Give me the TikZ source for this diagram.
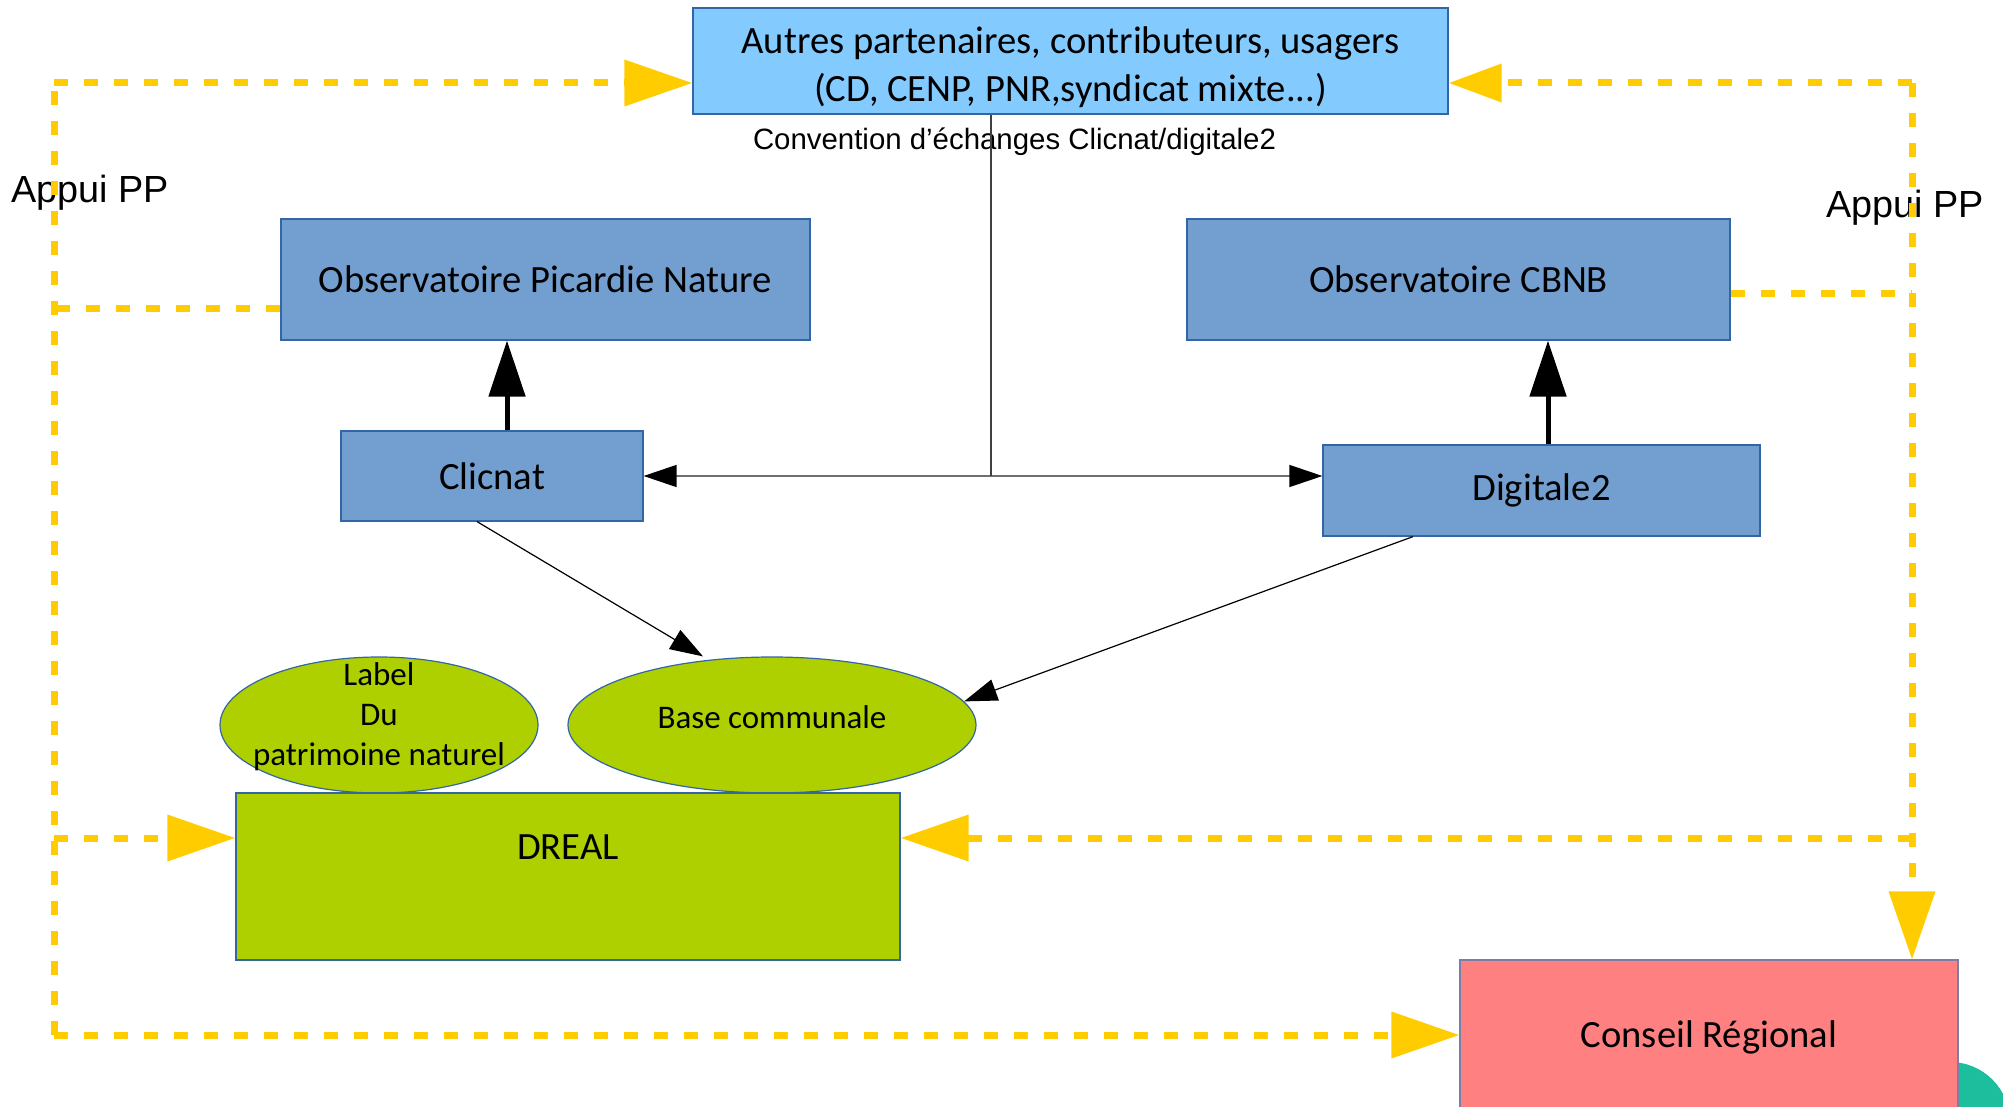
\documentclass[tikz,border=0pt]{standalone}
\usepackage{fontspec}
\setmainfont{Carlito}
\newfontfamily\arialf{Liberation Sans}
\usetikzlibrary{arrows.meta,shapes.geometric}
\definecolor{topblue}{HTML}{83CAFF}
\definecolor{boxblue}{HTML}{729FCF}
\definecolor{edgeblue}{HTML}{3465A4}
\definecolor{lgreen}{HTML}{AECF00}
\definecolor{pinkc}{HTML}{FF8080}
\definecolor{pinkedge}{HTML}{7B7FA8}
\definecolor{ygold}{HTML}{FFCC00}
\definecolor{tealc}{HTML}{1CBE9E}
\definecolor{thingray}{HTML}{707070}
\begin{document}
\begin{tikzpicture}[x=0.5pt,y=-0.5pt,
  box/.style={draw=edgeblue, line width=0.6pt, inner sep=0pt, align=center,
    font=\fontsize{19.3}{24}\selectfont},
  ell/.style={ellipse, draw=edgeblue, line width=0.6pt, fill=lgreen, inner sep=0pt},
  smalltxt/.style={font=\fontsize{16.5}{20}\selectfont, align=center, inner sep=0pt},
  bigtxt/.style={font=\fontsize{19.3}{24}\selectfont, align=center, inner sep=0pt},
  appui/.style={font=\arialf\fontsize{18.9}{22}\selectfont, inner sep=0pt},
  ydash/.style={draw=ygold, line width=3.5pt, dash pattern=on 7pt off 8pt},
  ytip/.style={-{Triangle[length=34pt,width=22.5pt]}},
  ytipsmall/.style={-{Triangle[length=26.5pt,width=18.5pt]}},
  bigarrow/.style={line width=2.5pt, -{Triangle[length=28pt,width=18pt]}},
  thinarrow/.style={line width=0.6pt, -{Triangle[length=16.5pt,width=11pt]}},
  thinline/.style={draw=thingray, line width=0.7pt}]
\useasboundingbox (0,0) rectangle (2003,1107);

% teal shape behind Conseil box
\fill[tealc] (1950,1122) circle[radius=30pt];

% nodes
\node[box, fill=topblue, minimum width=377.5pt, minimum height=53pt] (top) at (1070.5,61) {};
\node[bigtxt] (toptext) at (1070.5,67) {Autres partenaires, contributeurs, usagers\\(CD, CENP, PNR,syndicat mixte...)};
\node[font=\arialf\fontsize{14.7}{17}\selectfont, inner sep=0pt] (conv) at (1014.5,142) {Convention d’échanges Clicnat/digitale2};
\node[appui] (appuiL) at (90,193) {Appui PP};
\node[appui] (appuiR) at (1905,208) {Appui PP};

\node[box, fill=boxblue, minimum width=264.5pt, minimum height=60.5pt] (pic) at (545.5,279.5) {Observatoire Picardie Nature};
\node[box, fill=boxblue, minimum width=271.5pt, minimum height=60.5pt] (cbnb) at (1458.5,279.5) {Observatoire CBNB};
\node[box, fill=boxblue, minimum width=151pt, minimum height=45pt] (clicnat) at (492,476) {Clicnat};
\node[box, fill=boxblue, minimum width=218.5pt, minimum height=45.5pt] (digi) at (1541.5,490.5) {Digitale2};

\node[ell, minimum width=159pt, minimum height=68pt] (label) at (379,725) {};
\node[smalltxt] (labeltext) at (379,717) {Label\\Du\\patrimoine naturel};
\node[ell, minimum width=204pt, minimum height=68pt] (base) at (772,725) {};
\node[smalltxt] (basetext) at (772,717) {Base communale};

\node[box, fill=lgreen, minimum width=332pt, minimum height=83.5pt] (dreal) at (568,876.5) {};
\node[bigtxt] (drealtext) at (568,847) {DREAL};

\node[box, draw=pinkedge, fill=pinkc, minimum width=249pt, minimum height=77pt] (conseil) at (1709,1037) {Conseil Régional};

% yellow dashed connectors
\coordinate (LT) at (54,83);
\coordinate (LB) at (54,1035);
\coordinate (RT) at (1912,83);
\draw[ydash] (LB) -- (LT);
\draw[ydash, ytip] (LT) -- (LT -| top.west);
\coordinate (picY) at ([yshift=-14.75pt]pic.west);
\draw[ydash] (picY) -- (LT |- picY);
\coordinate (drealL) at ([yshift=19.25pt]dreal.west);
\draw[ydash, ytip] (LT |- drealL) -- (drealL);
\draw[ydash, ytip] (LB) -- (LB -| conseil.west);

\draw[ydash, ytipsmall] (RT) -- (RT -| top.east);
\draw[ydash, ytip] (RT) -- (RT |- conseil.north);
\coordinate (cbnbY) at ([yshift=-7.25pt]cbnb.east);
\draw[ydash] (cbnbY) -- (RT |- cbnbY);
\coordinate (drealR) at ([yshift=19.25pt]dreal.east);
\draw[ydash, ytip] (RT |- drealR) -- (drealR);

% black thick arrows
\draw[bigarrow] ([xshift=7.5pt]clicnat.north) -- ([xshift=7.5pt]clicnat.north |- pic.south);
\draw[bigarrow] ([xshift=3.25pt]digi.north) -- ([xshift=3.25pt]digi.north |- cbnb.south);

% thin connectors
\coordinate (digiW) at ([yshift=7.25pt]digi.west);
\draw[thinline, {Triangle[length=16.5pt,width=11pt,color=black]}-{Triangle[length=16.5pt,width=11pt,color=black]}] (clicnat.east) -- (digiW);
\coordinate (topS) at ([xshift=-39.75pt]top.south);
\draw[line width=0.6pt, draw=black!75] (topS) -- (topS |- clicnat.east);
\draw[thinarrow] ([xshift=-7.5pt]clicnat.south) -- ([xshift=-34.5pt]base.north);
\draw[thinarrow] ([xshift=-64.25pt]digi.south) -- (base.7);
\end{tikzpicture}
\end{document}
